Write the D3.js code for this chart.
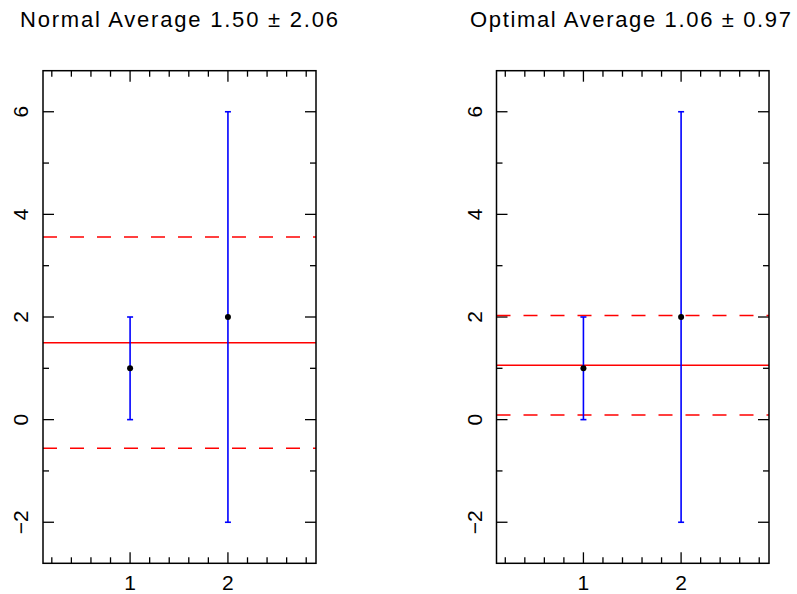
<!DOCTYPE html>
<html>
<head>
<meta charset="utf-8">
<script src="https://cdn.jsdelivr.net/npm/d3@7"></script>
<style>
  body { margin: 0; background: #fff; }
  text { font-family: "Liberation Sans", Arial, sans-serif; fill: #000; }
</style>
</head>
<body>
<div id="chart"></div>
<script>
// data
var xs = [1, 2];
var ys = [1, 2];
var errs = [1, 4];
var panels = [
  { title: "Normal Average 1.50 \u00b1 2.06", mean: 1.50, sd: 2.06 },
  { title: "Optimal Average 1.06 \u00b1 0.97", mean: 1.06, sd: 0.97 }
];
var yMajor = [-2, 0, 2, 4, 6];
var xMajor = [1, 2];

var W = 797, H = 594;
var svg = d3.select("#chart").append("svg").attr("width", W).attr("height", H);

var frames = [
  { left: 43, right: 316, titleX: 20, titleW: 318 },
  { left: 496.5, right: 769, titleX: 470, titleW: 321 }
];
var plotTop = 70.7, plotBottom = 563.3;

panels.forEach(function(p, i) {
  var f = frames[i];
  var x = d3.scaleLinear().domain([0.11, 2.9]).range([f.left, f.right]);
  var y = d3.scaleLinear().domain([-2.8, 6.8]).range([plotBottom, plotTop]);
  var g = svg.append("g");

  // title
  g.append("text").attr("x", f.titleX).attr("y", 27)
    .attr("font-size", 22).attr("textLength", f.titleW)
    .attr("lengthAdjust", "spacing").text(p.title);

  // ticks (inward, all sides)
  var xMinor = d3.range(0.2, 2.9, 0.2).map(function(v){ return Math.round(v*10)/10; });
  var yMinor = d3.range(-2, 7, 1);
  var tk = g.append("g").attr("stroke", "#000").attr("stroke-width", 1.3);
  xMinor.forEach(function(v) {
    var len = xMajor.indexOf(v) >= 0 ? 11 : 6;
    tk.append("line").attr("x1", x(v)).attr("x2", x(v)).attr("y1", plotTop).attr("y2", plotTop + len);
    tk.append("line").attr("x1", x(v)).attr("x2", x(v)).attr("y1", plotBottom).attr("y2", plotBottom - len);
  });
  yMinor.forEach(function(v) {
    var len = yMajor.indexOf(v) >= 0 ? 11 : 6;
    tk.append("line").attr("y1", y(v)).attr("y2", y(v)).attr("x1", f.left).attr("x2", f.left + len);
    tk.append("line").attr("y1", y(v)).attr("y2", y(v)).attr("x1", f.right).attr("x2", f.right - len);
  });

  // tick labels
  xMajor.forEach(function(v) {
    g.append("text").attr("x", x(v)).attr("y", 590).attr("font-size", 21)
      .attr("text-anchor", "middle").text(v);
  });
  yMajor.forEach(function(v) {
    g.append("text").attr("transform", "translate(" + (f.left - 15) + "," + y(v) + ") rotate(-90)")
      .attr("font-size", 21).attr("text-anchor", "middle")
      .text(v < 0 ? "\u2212" + Math.abs(v) : v);
  });

  // mean and +/- sd lines
  var red = g.append("g").attr("stroke", "#ff0000").attr("stroke-width", 1.5);
  red.append("line").attr("x1", f.left).attr("x2", f.right)
    .attr("y1", y(p.mean)).attr("y2", y(p.mean));
  [p.mean + p.sd, p.mean - p.sd].forEach(function(v) {
    red.append("line").attr("x1", f.left).attr("x2", f.right)
      .attr("y1", y(v)).attr("y2", y(v)).attr("stroke-dasharray", "14,13");
  });

  // error bars
  var eb = g.append("g").attr("stroke", "#0000ff").attr("stroke-width", 1.6);
  xs.forEach(function(xv, j) {
    var lo = ys[j] - errs[j], hi = ys[j] + errs[j];
    eb.append("line").attr("x1", x(xv)).attr("x2", x(xv)).attr("y1", y(lo)).attr("y2", y(hi));
    [lo, hi].forEach(function(v) {
      eb.append("line").attr("x1", x(xv) - 3).attr("x2", x(xv) + 3).attr("y1", y(v)).attr("y2", y(v));
    });
  });

  g.selectAll("circle.pt").data(xs).enter().append("circle")
    .attr("cx", function(d){ return x(d); })
    .attr("cy", function(d, j){ return y(ys[j]); })
    .attr("r", 3).attr("fill", "#000");

  // frame
  g.append("rect").attr("x", f.left).attr("y", plotTop)
    .attr("width", f.right - f.left).attr("height", plotBottom - plotTop)
    .attr("fill", "none").attr("stroke", "#000").attr("stroke-width", 1.5);
});
</script>
</body>
</html>
